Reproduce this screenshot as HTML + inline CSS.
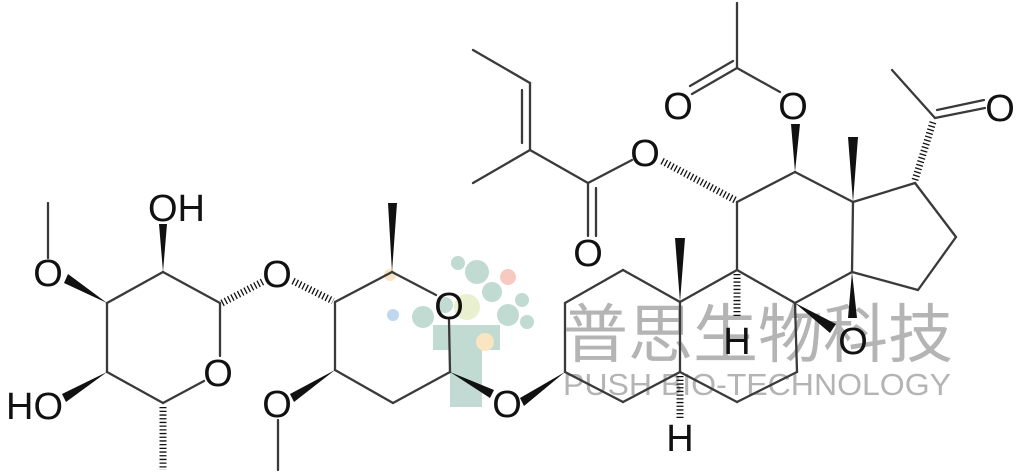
<!DOCTYPE html>
<html><head><meta charset="utf-8"><style>
html,body{margin:0;padding:0;background:#fff;width:1024px;height:476px;overflow:hidden}
svg{display:block}
text{font-family:"Liberation Sans",sans-serif}
</style></head><body>
<svg width="1024" height="476" viewBox="0 0 1024 476" xmlns="http://www.w3.org/2000/svg">
<!-- watermark logo -->
<g opacity="0.55">
<circle cx="458" cy="263" r="7" fill="#8fbcae"/>
<circle cx="477" cy="272" r="12" fill="#8fbcae"/>
<circle cx="492" cy="292" r="10" fill="#8fbcae"/>
<circle cx="508" cy="277" r="8" fill="#f0a090"/>
<circle cx="423" cy="317" r="11" fill="#8fbcae"/>
<circle cx="445" cy="305" r="8" fill="#8fbcae"/>
<circle cx="467" cy="307" r="13" fill="#d6e4a8"/>
<circle cx="508" cy="315" r="11" fill="#8fbcae"/>
<circle cx="522" cy="300" r="7" fill="#8fbcae"/>
<circle cx="527" cy="322" r="7" fill="#8fbcae"/>
<circle cx="393" cy="315" r="6" fill="#90b8e0"/>
<circle cx="390" cy="275" r="6" fill="#f5d090"/>
<rect x="433" y="325" width="67" height="25" fill="#8fbcae"/>
<rect x="450" y="350" width="32" height="57" fill="#8fbcae"/>
<circle cx="485" cy="342" r="9" fill="#f5d090"/>
</g>
<text x="563" y="357" font-size="64" fill="#b4b4b4" font-family="Noto Sans CJK SC, sans-serif" textLength="390" lengthAdjust="spacingAndGlyphs" font-weight="300">普思生物科技</text>
<text x="563" y="395" font-size="31" fill="#b4b4b4" textLength="388" lengthAdjust="spacingAndGlyphs">PUSH BIO-TECHNOLOGY</text>

<g stroke="#3a3a3a" stroke-width="2.3" fill="none" stroke-linecap="round">
<!-- sugar 1 -->
<line x1="48" y1="203" x2="48" y2="258"/>
<line x1="107" y1="303" x2="163" y2="272"/>
<line x1="163" y1="272" x2="220" y2="303"/>
<line x1="220" y1="303" x2="220" y2="356"/>
<line x1="107" y1="303" x2="107" y2="372"/>
<line x1="107" y1="372" x2="163" y2="403"/>
<line x1="163" y1="403" x2="204" y2="381"/>
<!-- sugar 2 -->
<line x1="335" y1="302" x2="392" y2="272"/>
<line x1="392" y1="272" x2="436" y2="295"/>
<line x1="449" y1="320" x2="450" y2="372"/>
<line x1="335" y1="302" x2="335" y2="370"/>
<line x1="335" y1="370" x2="393" y2="403"/>
<line x1="393" y1="403" x2="450" y2="372"/>
<line x1="278" y1="420" x2="278" y2="470"/>
<!-- steroid A/B -->
<line x1="565" y1="303" x2="623" y2="270"/>
<line x1="623" y1="270" x2="680" y2="302"/>
<line x1="565" y1="303" x2="565" y2="372"/>
<line x1="565" y1="372" x2="623" y2="402"/>
<line x1="623" y1="402" x2="680" y2="372"/>
<line x1="680" y1="302" x2="680" y2="372"/>
<line x1="680" y1="372" x2="737" y2="402"/>
<line x1="737" y1="402" x2="797" y2="372"/>
<line x1="797" y1="372" x2="795" y2="303"/>
<line x1="795" y1="303" x2="737" y2="270"/>
<line x1="737" y1="270" x2="680" y2="302"/>
<!-- C ring -->
<line x1="737" y1="270" x2="737" y2="202"/>
<line x1="737" y1="202" x2="795" y2="172"/>
<line x1="795" y1="172" x2="853" y2="202"/>
<line x1="853" y1="202" x2="852" y2="272"/>
<line x1="852" y1="272" x2="795" y2="303"/>
<!-- D ring -->
<line x1="853" y1="202" x2="915" y2="183"/>
<line x1="915" y1="183" x2="956" y2="237"/>
<line x1="956" y1="237" x2="918" y2="290"/>
<line x1="918" y1="290" x2="852" y2="272"/>
<!-- acetyl ketone -->
<line x1="935" y1="118" x2="892" y2="70"/>
<line x1="935" y1="118" x2="985" y2="108"/>
<line x1="937" y1="110" x2="984" y2="100"/>
<!-- OAc -->
<line x1="737" y1="3" x2="737" y2="68"/>
<line x1="737" y1="68" x2="780" y2="92"/>
<line x1="737" y1="68" x2="692" y2="94"/>
<line x1="733" y1="61" x2="690" y2="86"/>
<!-- angelate -->
<line x1="632" y1="160" x2="588" y2="183"/>
<line x1="588" y1="183" x2="530" y2="150"/>
<line x1="588" y1="183" x2="588" y2="236"/>
<line x1="596" y1="188" x2="596" y2="236"/>
<line x1="530" y1="150" x2="473" y2="183"/>
<line x1="530" y1="150" x2="530" y2="83"/>
<line x1="522" y1="143" x2="522" y2="90"/>
<line x1="530" y1="83" x2="473" y2="50"/>
</g>

<g fill="#111">
<!-- wedges -->
<polygon points="107,303 64,283 68,274"/>
<polygon points="163,272 159,224 167,224"/>
<polygon points="107,372 62,394 66,402"/>
<polygon points="392,272 388,203 397,203"/>
<polygon points="335,370 290,394 294,402"/>
<polygon points="450,372 490,398 494,390"/>
<polygon points="565,372 520,398 524,406"/>
<polygon points="680,302 675,238 685,238"/>
<polygon points="795,172 791,124 800,124"/>
<polygon points="853,202 848,137 858,137"/>
<polygon points="852,272 848,318 857,318"/>
<polygon points="795,303 830,333 836,324"/>
</g>
<g stroke="#111" stroke-width="7" stroke-dasharray="1.3,2.4" fill="none">
<line x1="222" y1="303" x2="264" y2="281"/>
<line x1="293" y1="281" x2="333" y2="301"/>
<line x1="163" y1="407" x2="163" y2="470"/>
<line x1="737" y1="274" x2="737" y2="318"/>
<line x1="680" y1="376" x2="680" y2="418"/>
<line x1="735" y1="200" x2="660" y2="160"/>
<line x1="915" y1="180" x2="933" y2="122"/>
</g>

<g font-size="38" fill="#111" text-anchor="middle">
<text x="48" y="286">O</text>
<text x="148" y="221" text-anchor="start">OH</text>
<text x="6" y="419" text-anchor="start">HO</text>
<text x="218" y="386">O</text>
<text x="277" y="287">O</text>
<text x="449" y="319">O</text>
<text x="277" y="417">O</text>
<text x="507" y="417">O</text>
<text x="737" y="354">H</text>
<text x="680" y="451">H</text>
<text x="853" y="354">O</text>
<text x="645" y="166">O</text>
<text x="588" y="266">O</text>
<text x="678" y="119">O</text>
<text x="793" y="119">O</text>
<text x="1000" y="121">O</text>
</g>
</svg>
</body></html>
